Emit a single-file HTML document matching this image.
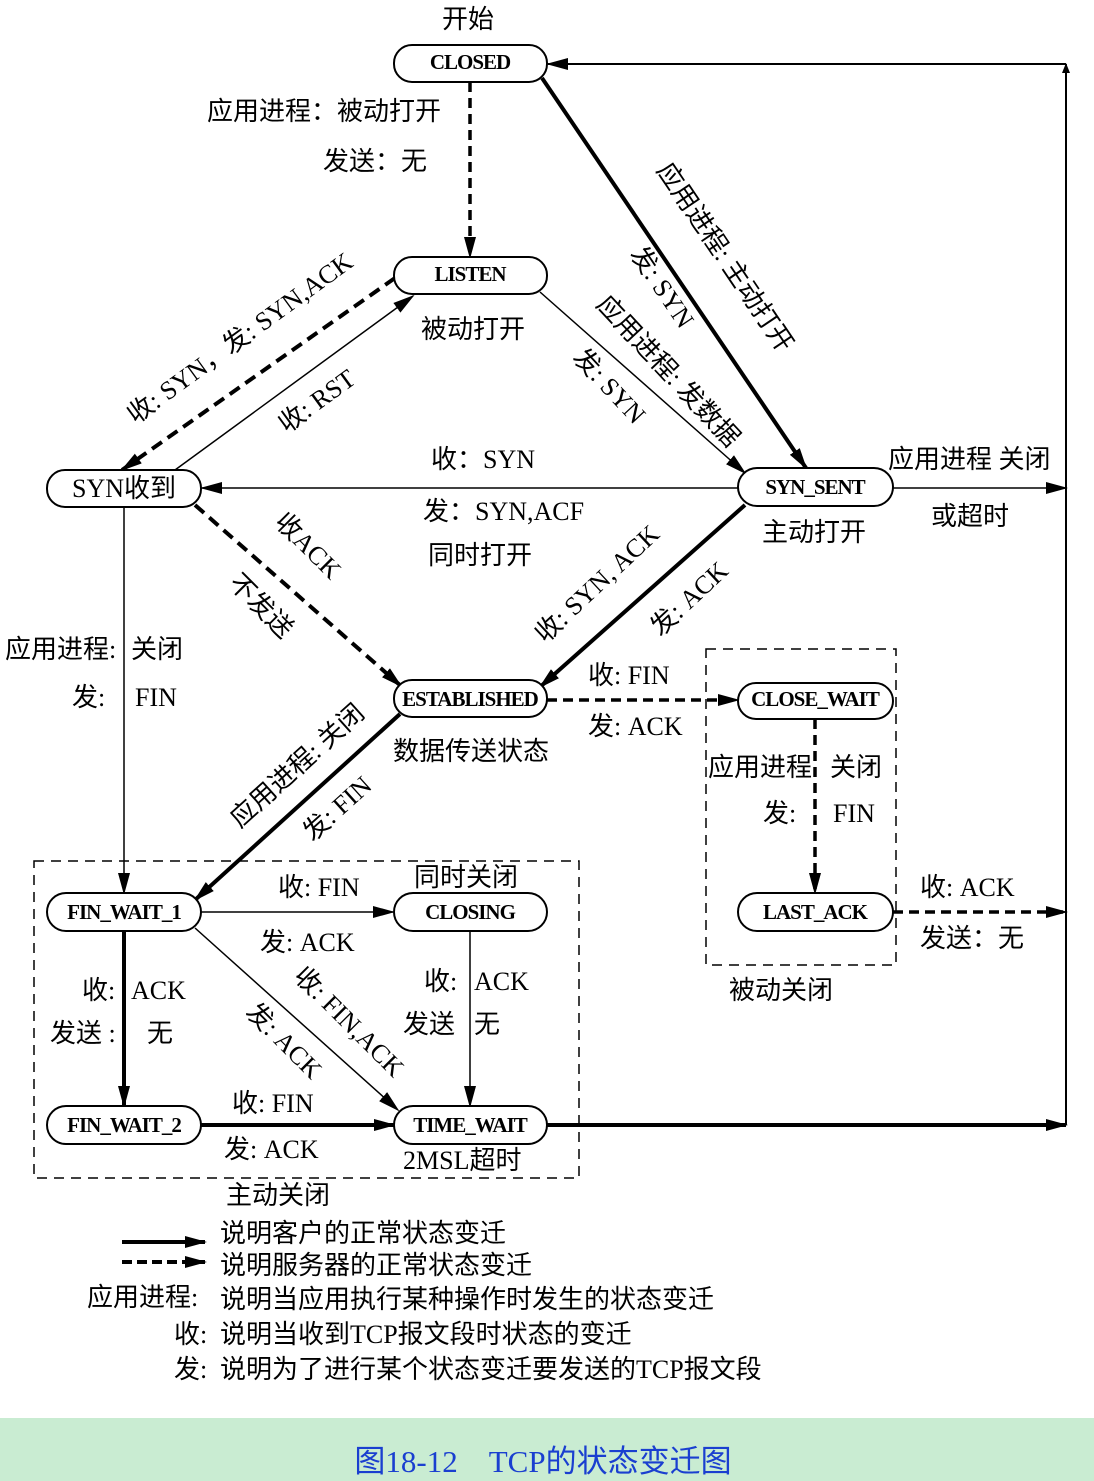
<!DOCTYPE html>
<html><head><meta charset="utf-8"><style>
body{margin:0;background:#fff;}
svg{display:block;}
text{font-family:"Liberation Serif","Noto Sans CJK SC",serif;fill:#000;}
.n{font-weight:bold;font-size:21px;letter-spacing:-1px;}
.l{font-size:26px;}
</style></head><body>
<svg width="1094" height="1481" viewBox="0 0 1094 1481" xmlns="http://www.w3.org/2000/svg">
<defs>
<marker id="a" markerWidth="10" markerHeight="10" refX="9" refY="5" orient="auto" markerUnits="userSpaceOnUse" viewBox="0 0 10 10"><path d="M0,1 L10,5 L0,9 z" fill="#000"/></marker>
<marker id="b" markerWidth="22" markerHeight="14" refX="20" refY="7" orient="auto" markerUnits="userSpaceOnUse" viewBox="0 0 22 14"><path d="M0,1 L22,7 L0,13 z" fill="#000"/></marker>
</defs>
<g fill="none" stroke="#000">
<rect x="34" y="861" width="545" height="317" stroke-width="1.5" stroke-dasharray="10,7"/>
<rect x="706" y="649" width="190" height="316" stroke-width="1.5" stroke-dasharray="10,7"/>
<line x1="470" y1="82" x2="470" y2="257" stroke-width="3.5" stroke-dasharray="10,6" marker-end="url(#b)"/>
<line x1="542" y1="78" x2="806" y2="468" stroke-width="4" marker-end="url(#b)"/>
<line x1="540" y1="292" x2="745" y2="473" stroke-width="1.5" marker-end="url(#b)"/>
<line x1="395" y1="278" x2="122" y2="470" stroke-width="4" stroke-dasharray="12,7" marker-end="url(#b)"/>
<line x1="175" y1="470" x2="413" y2="296" stroke-width="1.5" marker-end="url(#b)"/>
<line x1="738" y1="488" x2="202" y2="488" stroke-width="1.5" marker-end="url(#b)"/>
<line x1="893" y1="488" x2="1066" y2="488" stroke-width="1.5" marker-end="url(#b)"/>
<line x1="195" y1="505" x2="401" y2="686" stroke-width="4" stroke-dasharray="12,7" marker-end="url(#b)"/>
<line x1="745" y1="505" x2="540" y2="687" stroke-width="4" marker-end="url(#b)"/>
<line x1="1066" y1="1125" x2="1066" y2="64" stroke-width="2" marker-end="url(#a)"/>
<line x1="1066" y1="64" x2="548" y2="64" stroke-width="2" marker-end="url(#b)"/>
<line x1="547" y1="700" x2="738" y2="700" stroke-width="3.5" stroke-dasharray="10,6" marker-end="url(#b)"/>
<line x1="815" y1="719" x2="815" y2="893" stroke-width="3.5" stroke-dasharray="10,6" marker-end="url(#b)"/>
<line x1="893" y1="912" x2="1066" y2="912" stroke-width="3.5" stroke-dasharray="10,6" marker-end="url(#b)"/>
<line x1="124" y1="507" x2="124" y2="893" stroke-width="1.5" marker-end="url(#b)"/>
<line x1="400" y1="714" x2="195" y2="900" stroke-width="4" marker-end="url(#b)"/>
<line x1="201" y1="912" x2="393" y2="912" stroke-width="1.5" marker-end="url(#b)"/>
<line x1="195" y1="928" x2="398" y2="1110" stroke-width="1.5" marker-end="url(#b)"/>
<line x1="124" y1="931" x2="124" y2="1106" stroke-width="4" marker-end="url(#b)"/>
<line x1="470" y1="931" x2="470" y2="1106" stroke-width="1.5" marker-end="url(#b)"/>
<line x1="201" y1="1125" x2="394" y2="1125" stroke-width="4" marker-end="url(#b)"/>
<line x1="547" y1="1125" x2="1066" y2="1125" stroke-width="4" marker-end="url(#b)"/>
<line x1="122" y1="1242" x2="205" y2="1242" stroke-width="4" marker-end="url(#b)"/>
<line x1="122" y1="1262" x2="205" y2="1262" stroke-width="4" stroke-dasharray="10,5" marker-end="url(#b)"/>
<g stroke-width="2" fill="#fff">
<rect x="394" y="45" width="153" height="37" rx="18"/>
<rect x="394" y="257" width="153" height="37" rx="18"/>
<rect x="47" y="470" width="154" height="37" rx="18"/>
<rect x="738" y="468" width="155" height="38" rx="19"/>
<rect x="394" y="680" width="153" height="37" rx="18"/>
<rect x="738" y="683" width="155" height="36" rx="18"/>
<rect x="738" y="893" width="155" height="38" rx="19"/>
<rect x="47" y="893" width="154" height="38" rx="19"/>
<rect x="394" y="893" width="153" height="38" rx="19"/>
<rect x="47" y="1106" width="154" height="38" rx="19"/>
<rect x="394" y="1106" width="153" height="38" rx="19"/>
</g>
</g>
<g class="n" text-anchor="middle">
<text x="470" y="69">CLOSED</text>
<text x="470" y="281">LISTEN</text>
<text x="124" y="497" style="font-weight:normal;font-size:26px;letter-spacing:0">SYN收到</text>
<text x="815" y="494">SYN_SENT</text>
<text x="470" y="706">ESTABLISHED</text>
<text x="815" y="706">CLOSE_WAIT</text>
<text x="815" y="919">LAST_ACK</text>
<text x="124" y="919">FIN_WAIT_1</text>
<text x="470" y="919">CLOSING</text>
<text x="124" y="1132">FIN_WAIT_2</text>
<text x="470" y="1132">TIME_WAIT</text>
</g>
<g class="l">
<text x="442" y="28">开始</text>
<text x="207" y="120">应用进程：被动打开</text>
<text x="323" y="170">发送：无</text>
<text x="421" y="338">被动打开</text>
<text x="431" y="468">收：SYN</text>
<text x="423" y="520">发：SYN,ACF</text>
<text x="428" y="564">同时打开</text>
<text x="888" y="468">应用进程 关闭</text>
<text x="931" y="525">或超时</text>
<text x="762" y="541">主动打开</text>
<text x="5" y="658">应用进程:</text><text x="131" y="658">关闭</text>
<text x="72" y="706">发:</text><text x="135" y="706">FIN</text>
<text x="588" y="684">收:  FIN</text>
<text x="588" y="735">发: ACK</text>
<text x="393" y="760">数据传送状态</text>
<text x="708" y="776">应用进程</text><text x="830" y="776">关闭</text>
<text x="763" y="822">发:</text><text x="833" y="822">FIN</text>
<text x="920" y="896">收: ACK</text>
<text x="920" y="947">发送：无</text>
<text x="729" y="999">被动关闭</text>
<text x="278" y="896">收: FIN</text>
<text x="414" y="886">同时关闭</text>
<text x="260" y="951">发: ACK</text>
<text x="82" y="999">收:</text><text x="131" y="999">ACK</text>
<text x="50" y="1042">发送 :</text><text x="147" y="1042">无</text>
<text x="424" y="990">收:</text><text x="474" y="990">ACK</text>
<text x="403" y="1033">发送</text><text x="474" y="1033">无</text>
<text x="232" y="1112">收: FIN</text>
<text x="224" y="1158">发: ACK</text>
<text x="403" y="1169">2MSL超时</text>
<text x="226" y="1204">主动关闭</text>
<text x="220" y="1242">说明客户的正常状态变迁</text>
<text x="220" y="1274">说明服务器的正常状态变迁</text>
<text x="87" y="1306">应用进程:</text><text x="220" y="1308">说明当应用执行某种操作时发生的状态变迁</text>
<text x="174" y="1343">收:</text><text x="220" y="1343">说明当收到TCP报文段时状态的变迁</text>
<text x="174" y="1378">发:</text><text x="220" y="1378">说明为了进行某个状态变迁要发送的TCP报文段</text>
</g>
<g class="l" text-anchor="middle">
<text transform="translate(718,262) rotate(56)">应用进程:  主动打开</text>
<text transform="translate(655,292) rotate(56)">发:  SYN</text>
<text transform="translate(662,377) rotate(47)">应用进程:  发数据</text>
<text transform="translate(603,392) rotate(47)">发:  SYN</text>
<text transform="translate(245,345) rotate(-36)">收: SYN，发: SYN,ACK</text>
<text transform="translate(322,408) rotate(-36)">收:  RST</text>
<text transform="translate(302,552) rotate(45)">收ACK</text>
<text transform="translate(255,612) rotate(45)">不发送</text>
<text transform="translate(603,590) rotate(-43)">收: SYN, ACK</text>
<text transform="translate(695,605) rotate(-43)">发: ACK</text>
<text transform="translate(303,772) rotate(-42)">应用进程:  关闭</text>
<text transform="translate(343,815) rotate(-42)">发: FIN</text>
<text transform="translate(343,1028) rotate(45)">收: FIN,ACK</text>
<text transform="translate(278,1047) rotate(45)">发: ACK</text>
</g>
<rect x="0" y="1418" width="1094" height="63" fill="#c9ecd2"/>
<text x="543" y="1472" text-anchor="middle" style="font-size:31px;fill:#1a3fd0">图18-12　TCP的状态变迁图</text>
</svg>
</body></html>
